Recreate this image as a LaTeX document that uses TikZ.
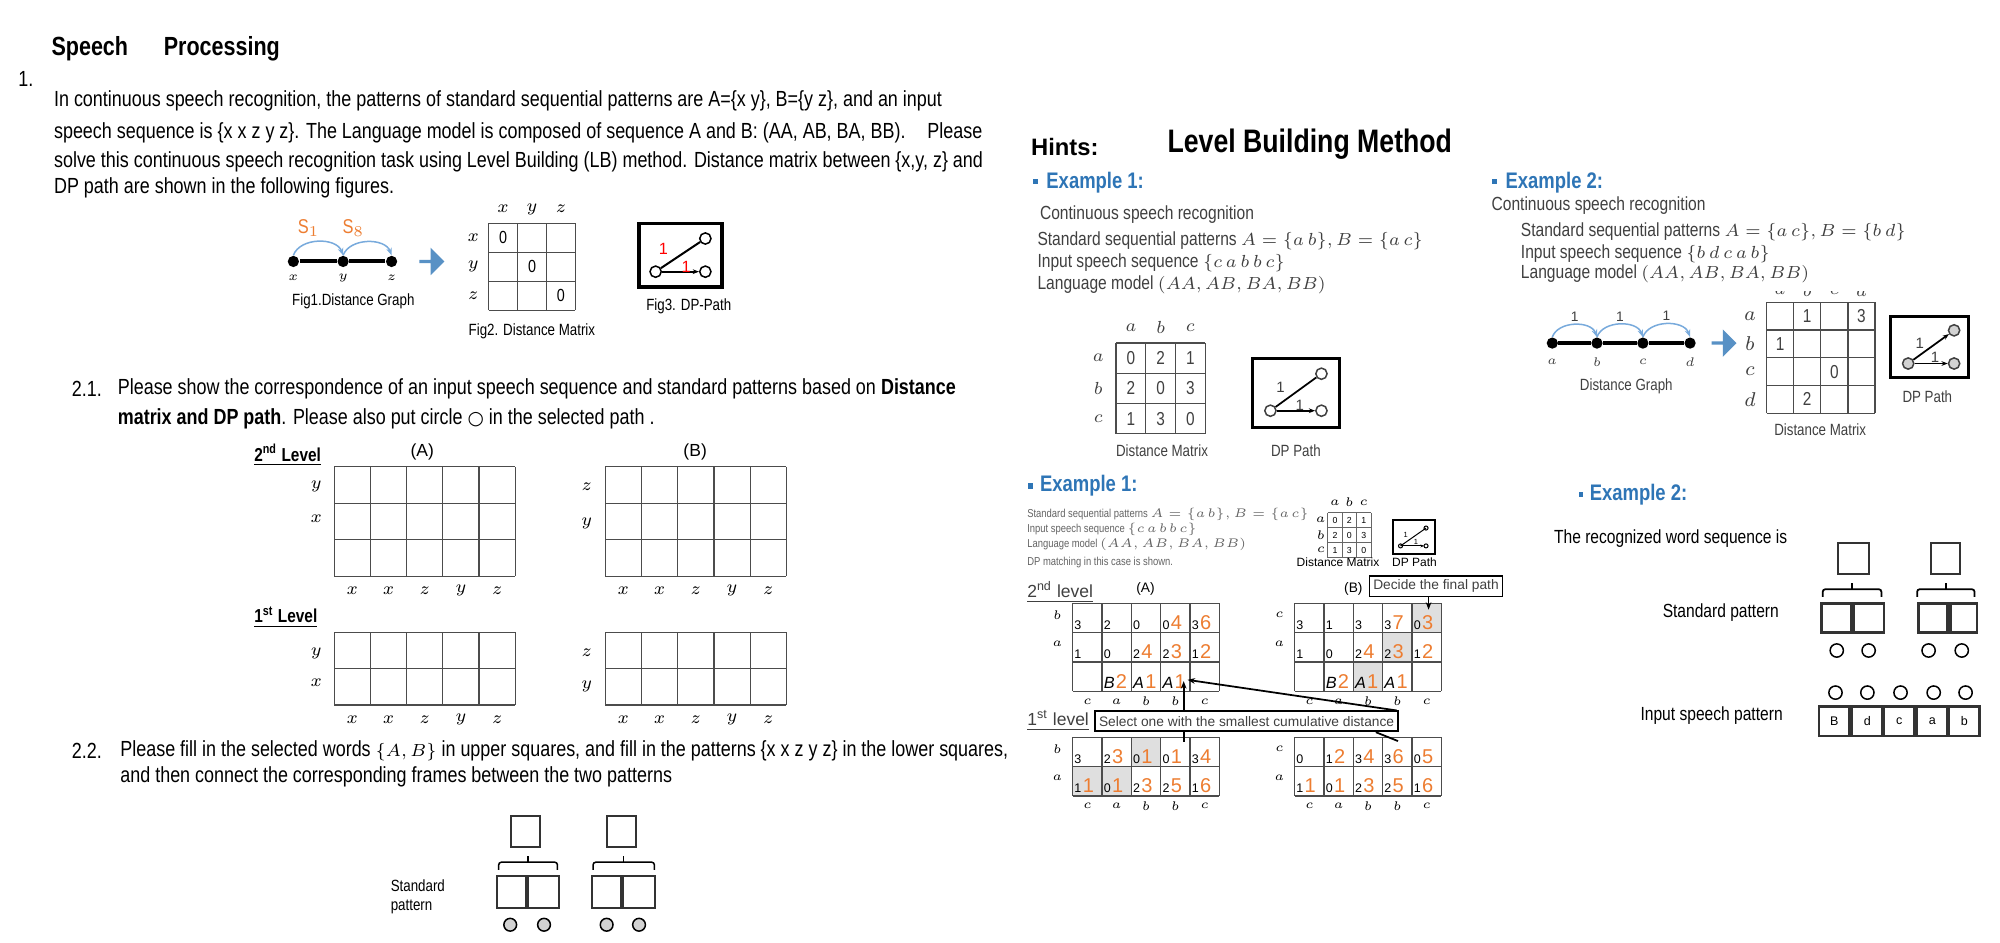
\documentclass[tikz,border=0pt]{standalone}
\usepackage{fontspec}
\setmainfont{Liberation Sans}
\newfontfamily\nar[FakeStretch=0.82]{Liberation Sans}
\newfontfamily\dvs{DejaVu Sans}
\usetikzlibrary{arrows.meta,shapes.arrows}
\definecolor{exblue}{RGB}{46,117,182}
\definecolor{arcblue}{RGB}{120,170,220}
\definecolor{orng}{RGB}{237,125,49}
\definecolor{dgray}{RGB}{64,64,64}
\definecolor{mgray}{RGB}{100,100,100}
\newcommand\mgrid[6]{%
  \foreach \ii in {0,...,#3}{\draw[gl] ({#1+\ii*#5},#2) -- ({#1+\ii*#5},{#2+#4*#6});}
  \foreach \jj in {0,...,#4}{\draw[gl] (#1,{#2+\jj*#6}) -- ({#1+#3*#5},{#2+\jj*#6});}}
\newcommand\cv[7][7.5]{%
  \node[sm] at ({#2+#4*23+1},{#3+(#5+1)*23-2}) {#6};
  \node[bg] at ({#2+#4*23+#1},{#3+(#5+1)*23-2}) {#7};}
\newcommand\gcell[4]{\fill[gray!25] ({#1+#3*23},{#2+#4*23}) rectangle ++(23,23);}
\newcommand\mm[1]{{\fontsize{6.6}{8}\selectfont$#1$}}
\newcommand\ms[1]{{\fontsize{4}{5}\selectfont$#1$}}
\tikzset{
  gl/.style={draw=black!70, line width=0.5pt},
  body/.style={anchor=west, inner sep=0, font=\nar\fontsize{8.75}{10}\selectfont},
  rtext/.style={anchor=west, inner sep=0, text=dgray, font=\nar\fontsize{7.6}{9}\selectfont},
  stext/.style={anchor=west, inner sep=0, text=mgray, font=\nar\fontsize{4.6}{6}\selectfont},
  exh/.style={anchor=west, inner sep=0, text=exblue, font=\nar\bfseries\fontsize{9}{10}\selectfont},
  mlab/.style={inner sep=0, font=\fontsize{7.5}{8}\selectfont},
  figcap/.style={inner sep=0, font=\nar\fontsize{6.5}{8}\selectfont},
  sm/.style={anchor=south west, inner sep=0, font=\fontsize{5}{6}\selectfont},
  bg/.style={anchor=south west, inner sep=0, text=orng, font=\fontsize{8}{9}\selectfont},
  gnode/.style={circle, fill=black, inner sep=0, minimum size=4.5pt},
  dpc/.style={circle, draw=black, line width=0.6pt, inner sep=0, minimum size=4.5pt},
  barrow/.style={single arrow, fill=exblue!80, draw=none, minimum height=10pt, minimum width=11pt, single arrow head extend=1.5pt, inner sep=0},
  sq/.style={draw=black!80, line width=0.8pt},
  call/.style={draw=black, line width=0.7pt, inner sep=2pt, anchor=north west, text=dgray, font=\fontsize{5.5}{6}\selectfont},
}
\begin{document}
\begin{tikzpicture}[x=0.51pt,y=-0.51pt]
\useasboundingbox (0,0) rectangle (1568,738.6);
\fill[white] (0,0) rectangle (1568,738.6);
% ================= LEFT =================
\node[anchor=west,inner sep=0,font=\nar\bfseries\fontsize{10.5}{12}\selectfont] (t1) at (40,38) {Speech};
\node[anchor=west,inner sep=0,font=\nar\bfseries\fontsize{10.5}{12}\selectfont] (t2) at (128,38) {Processing};
\node[body] (n1) at (14,62) {1.};
\node[body] (p1) at (42,79) {In continuous speech recognition, the patterns of standard sequential patterns are A=\{x y\}, B=\{y z\}, and an input};
\node[body] (p2) at (42,104) {speech sequence is \{x x z y z\}. The Language model is composed of sequence A and B: (AA, AB, BA, BB).\quad Please};
\node[body] (p3) at (42,127) {solve this continuous speech recognition task using Level Building (LB) method. Distance matrix between \{x,y, z\} and};
\node[body] (p4) at (42,147) {DP path are shown in the following figures.};
% Fig1
\node[font=\nar\fontsize{8}{9}\selectfont,text=orng,inner sep=0] (s1) at (242,179) {S$_1$};
\node[font=\nar\fontsize{8}{9}\selectfont,text=orng,inner sep=0] (s8) at (277,179) {S$_8$};
\node[gnode] (gx) at (230,205) {};
\node[gnode] (gy) at (269,205) {};
\node[gnode] (gz) at (307,205) {};
\draw[line width=1.6pt] (gx) -- (gy) -- (gz);
\draw[arcblue, line width=0.6pt, -{Stealth[length=3pt]}] (gx.north) to[out=70,in=110] (gy.north);
\draw[arcblue, line width=0.6pt, -{Stealth[length=3pt]}] (gy.north) to[out=70,in=110] (gz.north);
\node[mlab,font=\fontsize{5.5}{6}\selectfont] at (230,218) {$x$};
\node[mlab,font=\fontsize{5.5}{6}\selectfont] at (269,218) {$y$};
\node[mlab,font=\fontsize{5.5}{6}\selectfont] at (307,218) {$z$};
\node[figcap] (c1) at (277,236) {Fig1.Distance Graph};
\node[barrow] (ba1) at (338,205) {};
% Fig2
\mgrid{383}{175}{3}{3}{22.7}{22.8}
\foreach \l/\xx in {x/394.4,y/417.1,z/439.8} \node[mlab] at (\xx,164) {$\l$};
\foreach \l/\yy in {x/186.4,y/209.2,z/232} \node[mlab] at (371,\yy) {$\l$};
\node[mlab,font=\nar\fontsize{7}{8}\selectfont] at (394.4,186.4) {0};
\node[mlab,font=\nar\fontsize{7}{8}\selectfont] at (417.1,209.2) {0};
\node[mlab,font=\nar\fontsize{7}{8}\selectfont] at (439.8,232) {0};
\node[figcap] (c2) at (417,260) {Fig2. Distance Matrix};
% Fig3
\draw[line width=1.3pt] (501,175) rectangle (566,225);
\node[dpc] (d1) at (514,213) {};
\node[dpc] (d2) at (553,187) {};
\node[dpc] (d3) at (553,213) {};
\draw[line width=0.8pt] (d1) -- (d2);
\draw[line width=0.8pt,-{Stealth[length=2.5pt]}] (d1) -- (d3);
\node[text=red,inner sep=0,font=\fontsize{6.5}{7}\selectfont] at (520,195) {1};
\node[text=red,inner sep=0,font=\fontsize{6.5}{7}\selectfont] at (538,209) {1};
\node[figcap] (c3) at (540,240) {Fig3. DP-Path};
% 2.1
\node[body] (q21) at (56,305) {2.1.};
\node[body] (q21a) at (92,305) {Please show the correspondence of an input speech sequence and standard patterns based on \textbf{Distance}};
\node[body] (q21b) at (92,328) {\textbf{matrix and DP path}. Please also put circle {\dvs\fontsize{7.5}{8}\selectfont ○} in the selected path .};
\node[anchor=west,inner sep=0,font=\nar\bfseries\fontsize{7.5}{8}\selectfont] (l2) at (199,357) {\underline{2\textsuperscript{nd} Level}};
\node[inner sep=0,font=\fontsize{7}{8}\selectfont] (la) at (331,354) {(A)};
\node[inner sep=0,font=\fontsize{7}{8}\selectfont] (lb) at (545,354) {(B)};
\mgrid{262}{366}{5}{3}{28.4}{28.6}
\mgrid{474.5}{366}{5}{3}{28.4}{28.6}
\node[mlab] at (248,381.6) {$y$};
\node[mlab] at (248,406.3) {$x$};
\node[mlab] at (460,381.6) {$z$};
\node[mlab] at (460,410) {$y$};
\foreach \l [count=\k from 0] in {x,x,z,y,z}{
  \node[mlab] at ({276.2+\k*28.4},463) {$\l$};
  \node[mlab] at ({488.7+\k*28.4},463) {$\l$};
  \node[mlab] at ({276.2+\k*28.4},564) {$\l$};
  \node[mlab] at ({488.7+\k*28.4},564) {$\l$};}
\node[anchor=west,inner sep=0,font=\nar\bfseries\fontsize{7.5}{8}\selectfont] (l1) at (199,484) {\underline{1\textsuperscript{st} Level}};
\mgrid{262}{495.6}{5}{2}{28.4}{28.6}
\mgrid{474.5}{495.6}{5}{2}{28.4}{28.6}
\node[mlab] at (248,512) {$y$};
\node[mlab] at (248,535.6) {$x$};
\node[mlab] at (460,512) {$z$};
\node[mlab] at (460,538) {$y$};
% 2.2
\node[body] (q22) at (56,589) {2.2.};
\node[body] (q22a) at (94,589) {Please fill in the selected words \mm{\{A, B\}} in upper squares, and fill in the patterns \{x x z y z\} in the lower squares,};
\node[body] (q22b) at (94,609) {and then connect the corresponding frames between the two patterns};
\node[anchor=west,inner sep=0,align=left,font=\nar\fontsize{6.5}{7.5}\selectfont] (stl) at (306,703) {Standard\\pattern};
\draw[sq] (401,640) rectangle (423,664);
\draw[sq] (476,640) rectangle (499,664);
\foreach \a/\b in {391/437,465/513}{
  \draw[line width=0.6pt,rounded corners=1pt] (\a,682) -- (\a,676) -- (\b,676) -- (\b,682);
  \draw[line width=0.6pt] ({(\a+\b)/2},676) -- ({(\a+\b)/2},671);}
\draw[sq] (390,687) rectangle (412.5,712);
\draw[sq] (414,687) rectangle (438,712);
\draw[sq] (464,687) rectangle (487,712);
\draw[sq] (488.5,687) rectangle (513.5,712);
\foreach \xx in {400,426.5,475.6,501} \draw[fill=gray!35,line width=0.6pt] (\xx,725) circle (5);
% ================= RIGHT TOP =================
\node[anchor=west,inner sep=0,font=\bfseries\fontsize{9.5}{10}\selectfont] (hints) at (808,115) {Hints:};
\node[anchor=west,inner sep=0,font=\nar\bfseries\fontsize{13}{14}\selectfont] (lbm) at (915,113) {Level Building Method};
\fill[exblue] (810,140.5) rectangle ++(4,4);
\node[exh] (e1) at (820,143) {Example 1:};
\node[rtext] at (815,168) {Continuous speech recognition};
\node[rtext] at (813,189) {Standard sequential patterns \mm{A=\{a\ b\}, B=\{a\ c\}}};
\node[rtext] at (813,206) {Input speech sequence \mm{\{c\ a\ b\ b\ c\}}};
\node[rtext] at (813,223) {Language model \mm{(AA,AB,BA,BB)}};
\mgrid{875}{269}{3}{3}{23.3}{23.7}
\foreach \l/\xx in {a/886.7,b/910,c/933.3} \node[mlab,text=dgray] at (\xx,257) {$\l$};
\foreach \l/\yy in {a/280.8,b/304.5,c/328.2} \node[mlab,text=dgray] at (861,\yy) {$\l$};
\foreach \r/\vals in {0/{0,2,1},1/{2,0,3},2/{1,3,0}}{
  \foreach \v [count=\c from 0] in \vals
    \node[mlab,text=dgray,font=\nar\fontsize{7.5}{8}\selectfont] at ({886.7+\c*23.3},{280.8+\r*23.7}) {\v};}
\node[figcap,text=dgray] at (911,353) {Distance Matrix};
\draw[line width=1.1pt] (982,281) rectangle (1050,335);
\node[dpc,draw=dgray] (u1) at (996,322) {};
\node[dpc,draw=dgray] (u2) at (1036,293) {};
\node[dpc,draw=dgray] (u3) at (1036,322) {};
\draw[line width=0.7pt] (u1) -- (u2);
\draw[line width=0.7pt,-{Stealth[length=2.5pt]}] (u1) -- (u3);
\node[inner sep=0,text=dgray,font=\fontsize{6}{7}\selectfont] at (1004,304) {1};
\node[inner sep=0,text=dgray,font=\fontsize{6}{7}\selectfont] at (1019,318) {1};
\node[figcap,text=dgray] at (1016,353) {DP Path};
\fill[exblue] (1170,140.5) rectangle ++(4,4);
\node[exh] (e2) at (1180,143) {Example 2:};
\node[rtext] at (1169,161) {Continuous speech recognition};
\node[rtext] at (1192,182) {Standard sequential patterns \mm{A=\{a\ c\}, B=\{b\ d\}}};
\node[rtext] at (1192,199) {Input speech sequence \mm{\{b\ d\ c\ a\ b\}}};
\node[rtext] at (1192,215) {Language model \mm{(AA,AB,BA,BB)}};
\node[gnode] (ga) at (1217,269) {};
\node[gnode] (gb) at (1252,269) {};
\node[gnode] (gc) at (1288,269) {};
\node[gnode] (gd) at (1325,269) {};
\draw[line width=1.4pt] (ga) -- (gb) -- (gc) -- (gd);
\foreach \p/\q in {ga/gb,gb/gc,gc/gd}{
  \draw[arcblue, line width=0.6pt, -{Stealth[length=3pt]}] (\p.north) to[out=70,in=110] node[above,inner sep=1pt,text=dgray,font=\fontsize{5.5}{6}\selectfont]{1} (\q.north);}
\foreach \n/\l in {ga/a,gb/b,gc/c,gd/d} \node[mlab,text=dgray,font=\fontsize{5.5}{6}\selectfont] at ([yshift=-7.5pt]\n) {$\l$};
\node[figcap,text=dgray] at (1275,303) {Distance Graph};
\node[barrow] (ba2) at (1351,269) {};
\mgrid{1385}{237}{4}{4}{21.25}{21.75}
\begin{scope}
\clip (1380,228.5) rectangle (1480,236);
\foreach \l [count=\k from 0] in {a,b,c,d} \node[mlab,text=dgray] at ({1395.6+\k*21.25},228) {$\l$};
\end{scope}
\foreach \l [count=\k from 0] in {a,b,c,d} \node[mlab,text=dgray,font=\fontsize{8.5}{9}\selectfont] at (1372,{247.9+\k*21.75}) {$\l$};
\foreach \c/\r/\v in {1/0/1,3/0/3,0/1/1,2/2/0,1/3/2}
  \node[mlab,text=dgray,font=\nar\fontsize{7.5}{8}\selectfont] at ({1395.6+\c*21.25},{247.9+\r*21.75}) {\v};
\node[figcap,text=dgray] at (1427,337) {Distance Matrix};
\draw[line width=1.3pt] (1482,248) rectangle (1543,296);
\node[dpc,fill=gray!35,draw=dgray] (w1) at (1496,285) {};
\node[dpc,fill=gray!35,draw=dgray] (w2) at (1532,259) {};
\node[dpc,fill=gray!35,draw=dgray] (w3) at (1532,285) {};
\draw[line width=0.7pt,-{Stealth[length=2.5pt]}] (w1) -- (w2);
\draw[line width=0.7pt,-{Stealth[length=2.5pt]}] (w1) -- (w3);
\node[inner sep=0,text=dgray,font=\fontsize{6}{7}\selectfont] at (1505,269) {1};
\node[inner sep=0,text=dgray,font=\fontsize{6}{7}\selectfont] at (1517,280) {1};
\node[figcap,text=dgray] at (1511,311) {DP Path};
% ================= RIGHT BOTTOM: Example 1 =================
\fill[exblue] (806,379) rectangle ++(4,4);
\node[exh] (e1b) at (815,381) {Example 1:};
\node[stext] at (805,403) {Standard sequential patterns \ms{A=\{a\ b\}, B=\{a\ c\}}};
\node[stext] at (805,415) {Input speech sequence \ms{\{c\ a\ b\ b\ c\}}};
\node[stext] at (805,427) {Language model \ms{(AA,AB,BA,BB)}};
\node[stext] at (805,441) {DP matching in this case is shown.};
\begin{scope}[gl/.style={draw=black!60,line width=0.4pt}]
\mgrid{1041}{402}{3}{3}{11.3}{11.7}
\end{scope}
\foreach \l/\xx in {a/1046.6,b/1057.9,c/1069.2} \node[inner sep=0,font=\fontsize{3.5}{4}\selectfont] at (\xx,394) {$\l$};
\foreach \l/\yy in {a/407.8,b/419.5,c/431.2} \node[inner sep=0,font=\fontsize{3.5}{4}\selectfont] at (1035.5,\yy) {$\l$};
\foreach \r/\vals in {0/{0,2,1},1/{2,0,3},2/{1,3,0}}{
  \foreach \v [count=\c from 0] in \vals
    \node[inner sep=0,font=\fontsize{3.5}{4}\selectfont] at ({1046.6+\c*11.3},{407.8+\r*11.7}) {\v};}
\node[inner sep=0,font=\fontsize{4.8}{5}\selectfont] at (1049,441) {Distance Matrix};
\draw[line width=0.8pt] (1092,408) rectangle (1125,434);
\draw[line width=0.4pt] (1098,428) circle (1.6) -- (1118,414);
\draw[line width=0.4pt] (1118,414) circle (1.6);
\draw[line width=0.4pt,-{Stealth[length=1.5pt]}] (1099.5,428) -- (1116.5,428);
\draw[line width=0.4pt] (1118,428) circle (1.6);
\node[inner sep=0,font=\fontsize{3}{3}\selectfont] at (1102,419) {1};
\node[inner sep=0,font=\fontsize{3}{3}\selectfont] at (1110,425) {1};
\node[inner sep=0,font=\fontsize{4.8}{5}\selectfont] at (1109,441) {DP Path};
\node[anchor=west,inner sep=0,text=dgray,font=\fontsize{7}{8}\selectfont] (ll2) at (805,464) {\underline{2\textsuperscript{nd} level}};
\node[inner sep=0,font=\fontsize{5.5}{6}\selectfont] at (898,462) {(A)};
\node[inner sep=0,font=\fontsize{5.5}{6}\selectfont] at (1061,462) {(B)};
\node[anchor=west,inner sep=0,text=dgray,font=\fontsize{7}{8}\selectfont] (ll1) at (805,565) {\underline{1\textsuperscript{st} level}};
\gcell{1015}{473}{4}{0}
\gcell{1015}{473}{3}{1}
\gcell{1015}{473}{2}{2}
\gcell{841}{578}{2}{0}
\gcell{841}{578}{0}{1}
\gcell{841}{578}{1}{1}
\mgrid{841}{473}{5}{3}{23}{23}
\mgrid{1015}{473}{5}{3}{23}{23}
\mgrid{841}{578}{5}{2}{23}{23}
\mgrid{1015}{578}{5}{2}{23}{23}
\foreach \gx/\ra/\rb in {829/b/a,1003/c/a}{
  \node[inner sep=0,font=\fontsize{5.5}{6}\selectfont] at (\gx,482) {$\ra$};
  \node[inner sep=0,font=\fontsize{5.5}{6}\selectfont] at (\gx,505) {$\rb$};
  \node[inner sep=0,font=\fontsize{5.5}{6}\selectfont] at (\gx,587) {$\ra$};
  \node[inner sep=0,font=\fontsize{5.5}{6}\selectfont] at (\gx,610) {$\rb$};}
\foreach \l [count=\k from 0] in {c,a,b,b,c}{
  \node[inner sep=0,font=\fontsize{5.5}{6}\selectfont] at ({852.5+\k*23},550) {$\l$};
  \node[inner sep=0,font=\fontsize{5.5}{6}\selectfont] at ({1026.5+\k*23},550) {$\l$};
  \node[inner sep=0,font=\fontsize{5.5}{6}\selectfont] at ({852.5+\k*23},632) {$\l$};
  \node[inner sep=0,font=\fontsize{5.5}{6}\selectfont] at ({1026.5+\k*23},632) {$\l$};}
\foreach \c/\r/\s/\b in {0/0/3/{},1/0/2/{},2/0/0/{},3/0/0/4,4/0/3/6,0/1/1/{},1/1/0/{},2/1/2/4,3/1/2/3,4/1/1/2}{\cv{841}{473}{\c}{\r}{\s}{\b}}
\foreach \c/\s/\b in {1/B/2,2/A/1,3/A/1}{\cv[10.5]{841}{473}{\c}{2}{\fontsize{6.5}{8}\selectfont\itshape\s}{\b}}
\foreach \c/\r/\s/\b in {0/0/3/{},1/0/1/{},2/0/3/{},3/0/3/7,4/0/0/3,0/1/1/{},1/1/0/{},2/1/2/4,3/1/2/3,4/1/1/2}{\cv{1015}{473}{\c}{\r}{\s}{\b}}
\foreach \c/\s/\b in {1/B/2,2/A/1,3/A/1}{\cv[10.5]{1015}{473}{\c}{2}{\fontsize{6.5}{8}\selectfont\itshape\s}{\b}}
\foreach \c/\r/\s/\b in {0/0/3/{},1/0/2/3,2/0/0/1,3/0/0/1,4/0/3/4,0/1/1/1,1/1/0/1,2/1/2/3,3/1/2/5,4/1/1/6}{\cv{841}{578}{\c}{\r}{\s}{\b}}
\foreach \c/\r/\s/\b in {0/0/0/{},1/0/1/2,2/0/3/4,3/0/3/6,4/0/0/5,0/1/1/1,1/1/0/1,2/1/2/3,3/1/2/5,4/1/1/6}{\cv{1015}{578}{\c}{\r}{\s}{\b}}
\node[call,minimum width=116pt,minimum height=8pt,inner sep=1.5pt] (sel) at (858,557) {Select one with the smallest cumulative distance};
\node[call,minimum width=50pt,minimum height=8pt,inner sep=1.5pt] (dec) at (1073,451) {Decide the final path};
\coordinate (a2t) at (928,534);
\coordinate (a2u) at (931,533);
\coordinate (a1t) at (928,582);
\coordinate (b1t) at (1096,581);
\coordinate (b2t) at (1120,478);
\draw[line width=0.7pt,-{Stealth[length=3pt]}] (sel.north -| a2t) -- (a2t);
\draw[line width=0.7pt,-{Stealth[length=3pt]}] ([xshift=60]sel.north) -- (a2u);
\draw[line width=0.7pt] (sel.south -| a1t) -- (a1t);
\draw[line width=0.7pt] (sel.south east) ++(-18,0) -- (b1t);
\draw[line width=0.7pt,-{Stealth[length=3pt]}] (dec.south -| b2t) -- (b2t);
% ================= RIGHT BOTTOM: Example 2 =================
\fill[exblue] (1238,385.5) rectangle ++(3,4);
\node[exh] (e2b) at (1246,388) {Example 2:};
\node[rtext,text=black] at (1218,422) {The recognized word sequence is};
\node[anchor=east,inner sep=0,font=\nar\fontsize{7.6}{9}\selectfont] (stp) at (1395,480) {Standard pattern};
\node[anchor=east,inner sep=0,font=\nar\fontsize{7.6}{9}\selectfont] (isp) at (1398,561) {Input speech pattern};
\draw[sq] (1441,426) rectangle (1465,450);
\draw[sq] (1514,426) rectangle (1537,450);
\foreach \a/\b in {1429/1475,1503/1548}{
  \draw[line width=0.7pt,rounded corners=1pt] (\a,468) -- (\a,462) -- (\b,462) -- (\b,468);
  \draw[line width=0.7pt] ({(\a+\b)/2},462) -- ({(\a+\b)/2},457);}
\foreach \a/\b in {1428/1451,1453/1477,1504/1527,1529/1550} \draw[sq,line width=1pt] (\a,473) rectangle (\b,496);
\foreach \xx in {1440,1465,1512,1538} \draw[line width=0.6pt] (\xx,510) circle (5.2);
\foreach \xx in {1439,1464,1490,1516,1541} \draw[line width=0.6pt] (\xx,543) circle (5.2);
\foreach \a/\b/\l in {1426/1450/B,1452/1476/d,1477/1501/c,1503/1527/a,1528/1552/b}{
  \draw[sq,line width=1pt] (\a,554) rectangle (\b,577);
  \node[inner sep=0,font=\fontsize{5}{6}\selectfont] at ({(\a+\b)/2},565.5) {\l};}
\end{tikzpicture}
\end{document}
